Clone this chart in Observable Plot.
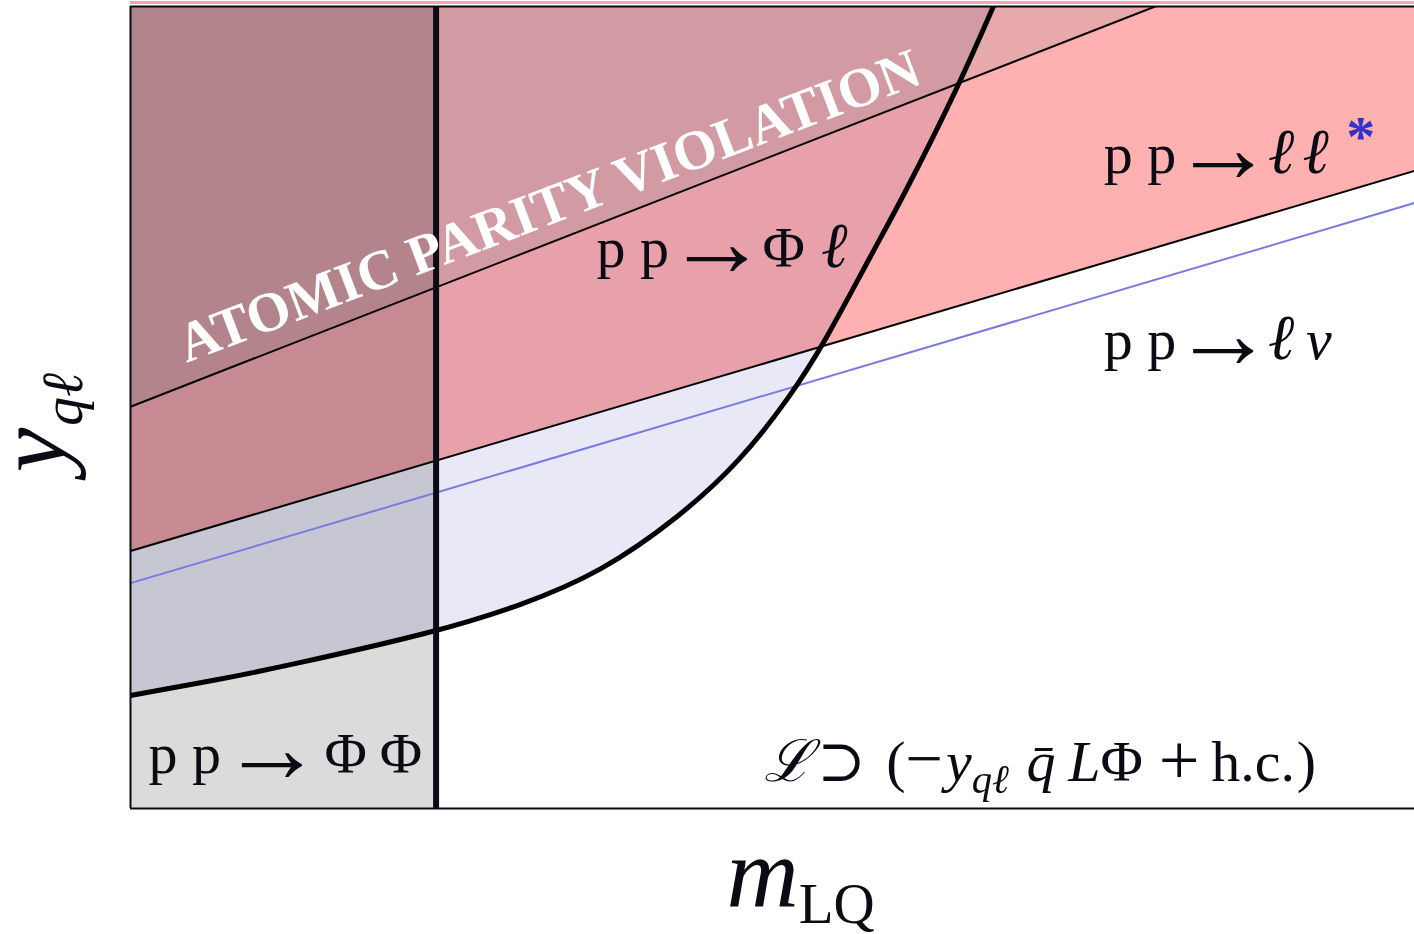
<!DOCTYPE html>
<html>
<head>
<meta charset="utf-8">
<script src="https://cdn.jsdelivr.net/npm/d3@7"></script>
<script src="https://cdn.jsdelivr.net/npm/@observablehq/plot@0.6"></script>
<style>
  html, body { margin: 0; padding: 0; background: #fff; }
  svg { isolation: isolate; }
</style>
</head>
<body>
<div id="chart"></div>
<script>
// ---- data (schematic units: m_LQ 0–100, y_qℓ 0–100) ----
const pairProdMax = [23.8];                       // pp → ΦΦ bound on m_LQ
const curveX = [0, 7, 12.2, 23.8, 30.4, 36.6, 42.8, 47.5, 51.4, 54.0, 57.9, 60.0, 64.6, 67.2];
const curveY = [14.1, 16.1, 17.8, 22.0, 25.3, 29.4, 36.4, 43.3, 51.4, 57.9, 69.7, 75.7, 90.4, 100];
const dileptonX = [0, 100];  const dileptonY = [32.1, 79.5];   // pp → ℓℓ*
const lnuX = [0, 100];       const lnuY = [28.1, 75.5];        // pp → ℓν
const apvX = [0, 79.8];      const apvY = [50.1, 100];         // atomic parity violation

const labelKeys = ["ll", "phil", "lnu", "phiphi", "lag"];
const labelX = [75.8, 36.3, 75.8, 1.4, 49.3];
const labelY = [79.2, 67.5, 56.1, 4.4, 3.4];
const arrow = s => `<tspan dx="${s}" dy="9" font-size="1.75em">→</tspan>`;
const labelHTML = [
  'p p' + arrow(-4) + '<tspan dy="-9" dx="-6" font-style="italic" font-size="1.1em">ℓ</tspan><tspan dx="8" font-style="italic" font-size="1.1em">ℓ</tspan><tspan fill="#3333cc" dy="-0.3em" dx="0.3em" font-weight="bold">*</tspan>',
  'p p' + arrow(-3) + '<tspan dy="-9" dx="-5">Φ</tspan><tspan dx="0.25em" font-style="italic" font-size="1.1em">ℓ</tspan>',
  'p p' + arrow(-4) + '<tspan dy="-9" dx="-6" font-style="italic" font-size="1.1em">ℓ</tspan><tspan dx="0.2em" font-style="italic">ν</tspan>',
  'p p' + arrow(0) + '<tspan dy="-9" dx="2">Φ</tspan><tspan dx="0.22em">Φ</tspan>',
  '<tspan font-style="italic">ℒ</tspan><tspan dx="0.1em">⊃</tspan><tspan dx="0.35em">(</tspan><tspan font-size="1.15em">−</tspan><tspan font-style="italic" dx="0.05em">y</tspan><tspan font-size="0.7em" dy="12" font-style="italic">qℓ</tspan><tspan dy="-12" dx="0.3em" font-style="italic">q̄</tspan><tspan dx="0.22em" font-style="italic">L</tspan>Φ<tspan dx="0.22em" font-size="1.25em" dy="3">+</tspan><tspan dx="0.2em" dy="-3">h.c.</tspan><tspan dx="0.03em">)</tspan>'
];
const apvText = ["ATOMIC PARITY VIOLATION"];
const apvTextX = [32.6], apvTextY = [75.1];
const xLabel = '<tspan font-style="italic">m</tspan><tspan font-size="57px" dy="17">LQ</tspan>';
const yLabel = '<tspan font-style="italic">y</tspan><tspan font-size="58px" dy="17" dx="2" font-style="italic">qℓ</tspan>';

// ---- tables ----
const curve = curveX.map((x, i) => ({x, y: curveY[i]}));
const dilepton = dileptonX.map((x, i) => ({x, y: dileptonY[i]}));
const lnu = lnuX.map((x, i) => ({x, y: lnuY[i]}));
const apv = apvX.map((x, i) => ({x, y: apvY[i]}));
const labels = labelKeys.map((k, i) => ({k, x: labelX[i], y: labelY[i]}));
const apvLab = apvText.map((t, i) => ({t, x: apvTextX[i], y: apvTextY[i]}));
const strip = pairProdMax.map(m => ({x1: 0, x2: m, y1: 0, y2: 100}));
const rich = Object.fromEntries(labelKeys.map((k, i) => [k, labelHTML[i]]));
rich["xlab"] = xLabel; rich["ylab"] = yLabel;

const serif = "Liberation Serif, DejaVu Serif, serif";
const ink = "#0b0b14";
const fills = ["#dbdbdb", "#e8e8f6", "#ffb0b0", "#e7f5f5"];

const chart = Plot.plot({
  width: 1414, height: 934,
  marginLeft: 130, marginRight: 0, marginTop: 6, marginBottom: 126,
  x: {domain: [0, 100], axis: null},
  y: {domain: [0, 100], axis: null},
  style: {background: "#fff", fontFamily: serif},
  marks: [
    Plot.rect(strip, {x1: "x1", x2: "x2", y1: "y1", y2: "y2", fill: fills[0]}),
    Plot.areaY(curve, {x: "x", y1: "y", y2: 100, fill: fills[1], curve: "basis"}),
    Plot.areaY(dilepton, {x: "x", y1: "y", y2: 100, fill: fills[2]}),
    Plot.areaY(apv, {x: "x", y1: "y", y2: 100, fill: fills[3]}),
    Plot.line(lnu, {x: "x", y: "y", stroke: "#7a7ae0", strokeWidth: 2, clip: true}),
    Plot.line(dilepton, {x: "x", y: "y", stroke: "#000", strokeWidth: 2, clip: true}),
    Plot.line(apv, {x: "x", y: "y", stroke: "#000", strokeWidth: 2, clip: true}),
    Plot.line(curve, {x: "x", y: "y", stroke: "#000", strokeWidth: 5, curve: "basis", clip: true}),
    Plot.ruleX(pairProdMax, {stroke: ink, strokeWidth: 6}),
    Plot.ruleY([100], {stroke: "#f2a6b4", strokeWidth: 3, dy: -4}),
    Plot.ruleX([0], {stroke: ink, strokeWidth: 2}),
    Plot.ruleY([0, 100], {stroke: ink, strokeWidth: 2}),
    Plot.text(apvLab, {x: "x", y: "y", text: "t", fill: "#fff", fontSize: 56, fontWeight: "bold",
      rotate: -20.8, textAnchor: "middle", lineAnchor: "middle", fontFamily: serif}),
    Plot.text(labels, {x: "x", y: "y", text: "k", fill: ink, fontSize: 58, textAnchor: "start",
      lineAnchor: "bottom", fontFamily: serif}),
    Plot.text(["xlab"], {frameAnchor: "bottom", dx: 28, dy: 97, fill: ink, fontSize: 100, textAnchor: "middle",
      lineAnchor: "bottom", fontFamily: serif}),
    Plot.text(["ylab"], {frameAnchor: "left", dx: -66, dy: 15, rotate: -90, fill: ink, fontSize: 100, textAnchor: "middle",
      lineAnchor: "bottom", fontFamily: serif})
  ]
});

const svg = d3.select(chart);
svg.selectAll("text").each(function() {
  const key = this.textContent.trim();
  if (rich[key] !== undefined) this.innerHTML = rich[key];
});
fills.forEach(f => {
  svg.selectAll(`[fill="${f}"]`).style("mix-blend-mode", "multiply");
});
document.getElementById("chart").appendChild(chart);
</script>
</body>
</html>
